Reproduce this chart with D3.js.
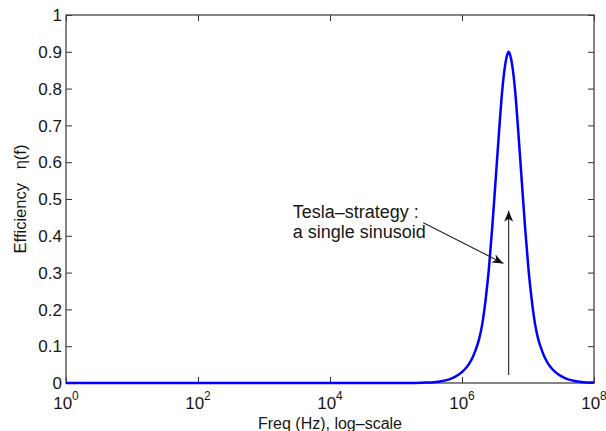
<!DOCTYPE html>
<html>
<head>
<meta charset="utf-8">
<script src="https://cdn.jsdelivr.net/npm/d3@7/dist/d3.min.js"></script>
<style>
  html, body { margin: 0; padding: 0; background: #fff; }
  svg { display: block; }
  text { font-family: "Liberation Sans", Arial, Helvetica, sans-serif; fill: #161616; }
</style>
</head>
<body>
<svg id="chart" width="606" height="431"></svg>
<script>
// ---- data ----
const freqHz = [1, 1e2, 1e4, 5.09e4, 1.279e5, 2.553e5, 4.046e5, 5.093e5, 6.412e5, 8.072e5,
  1.016e6, 1.140e6, 1.279e6, 1.435e6, 1.611e6, 1.807e6, 2.028e6, 2.275e6, 2.553e6, 2.864e6,
  3.214e6, 3.606e6, 4.046e6, 4.539e6, 4.808e6, 5.093e6, 5.395e6, 5.715e6, 6.412e6, 7.194e6,
  8.072e6, 9.057e6, 1.016e7, 1.140e7, 1.279e7, 1.435e7, 1.611e7, 1.807e7, 2.028e7, 2.275e7,
  2.553e7, 3.214e7, 4.046e7, 5.093e7, 6.412e7, 1e8];
const efficiency = [0, 0, 0, 0, 0.0002, 0.001, 0.003, 0.0055, 0.010, 0.018,
  0.031, 0.040, 0.052, 0.068, 0.090, 0.118, 0.160, 0.225, 0.310, 0.420,
  0.545, 0.672, 0.790, 0.868, 0.890, 0.900, 0.890, 0.868, 0.790, 0.672,
  0.545, 0.420, 0.310, 0.225, 0.160, 0.118, 0.090, 0.068, 0.052, 0.040,
  0.031, 0.018, 0.010, 0.0055, 0.003, 0.0012];

const xTickExp = [0, 2, 4, 6, 8];
const yTicks = [0, 0.1, 0.2, 0.3, 0.4, 0.5, 0.6, 0.7, 0.8, 0.9, 1];
const yTickLabels = ["0", "0.1", "0.2", "0.3", "0.4", "0.5", "0.6", "0.7", "0.8", "0.9", "1"];

const xLabel = "Freq (Hz), log\u2013scale";
const yLabel = "Efficiency   \u03b7(f)";
const noteLines = ["Tesla\u2013strategy :", "a single sinusoid"];
const noteAnchor = [2.72e3, 0.4476];          // text position (freq, eta)
const arrowDiag = [[2.59e5, 0.4356], [4.23e6, 0.325]];   // from, to
const arrowVert = [[5.093e6, 0.022], [5.093e6, 0.468]];  // from, to

// ---- layout ----
const L = 66, R = 594, T = 15, B = 383;
const svg = d3.select("#chart");

const x = d3.scaleLog().domain([1, 1e8]).range([L, R]);
const y = d3.scaleLinear().domain([0, 1]).range([B, T]);

// ticks (inward, on all four sides)
const tickLen = 6;
const axisStyle = g => {
  g.select(".domain").remove();
  g.selectAll(".tick line").attr("stroke", "#333").attr("stroke-width", 1);
  g.selectAll(".tick text").remove();
};
const xTickVals = xTickExp.map(e => Math.pow(10, e));
svg.append("g").attr("transform", `translate(0,${B})`)
  .call(d3.axisBottom(x).tickValues(xTickVals).tickSize(-tickLen)).call(axisStyle);
svg.append("g").attr("transform", `translate(0,${T})`)
  .call(d3.axisTop(x).tickValues(xTickVals).tickSize(-tickLen)).call(axisStyle);
svg.append("g").attr("transform", `translate(${L},0)`)
  .call(d3.axisLeft(y).tickValues(yTicks).tickSize(-tickLen)).call(axisStyle);
svg.append("g").attr("transform", `translate(${R},0)`)
  .call(d3.axisRight(y).tickValues(yTicks).tickSize(-tickLen)).call(axisStyle);

// box
svg.append("rect").attr("x", L).attr("y", T).attr("width", R - L).attr("height", B - T)
  .attr("fill", "none").attr("stroke", "#444").attr("stroke-width", 1.3);

// y tick labels
svg.append("g").selectAll("text").data(yTicks).join("text")
  .attr("x", L - 4).attr("y", d => y(d)).attr("dy", "0.36em")
  .attr("text-anchor", "end").attr("font-size", 17)
  .text((d, i) => yTickLabels[i]);

// x tick labels 10^n
const xl = svg.append("g").selectAll("text").data(xTickExp).join("text")
  .attr("x", d => x(Math.pow(10, d))).attr("y", 408.5)
  .attr("text-anchor", "middle").attr("font-size", 17);
xl.append("tspan").text("10");
xl.append("tspan").attr("font-size", 12).attr("dy", -9).text(d => d);

// axis labels
svg.append("text").attr("x", (L + R) / 2).attr("y", 428.5)
  .attr("text-anchor", "middle").attr("font-size", 16).text(xLabel);
svg.append("text").attr("transform", `translate(26,${(T + B) / 2}) rotate(-90)`)
  .attr("text-anchor", "middle").attr("font-size", 16.5)
  .style("white-space", "pre").text(yLabel);

// curve
const pts = freqHz.map((f, i) => [f, efficiency[i]]);
svg.append("path").datum(pts)
  .attr("fill", "none").attr("stroke", "#0000ff").attr("stroke-width", 2.5)
  .attr("stroke-linejoin", "round")
  .attr("d", d3.line().x(d => x(d[0])).y(d => y(d[1])).curve(d3.curveMonotoneX));

// arrows
const defs = svg.append("defs");
defs.append("marker").attr("id", "ah").attr("viewBox", "-12 -6 14 12")
  .attr("refX", 0).attr("refY", 0).attr("markerWidth", 14).attr("markerHeight", 12)
  .attr("markerUnits", "userSpaceOnUse").attr("orient", "auto")
  .append("path").attr("d", "M0,0 L-11,-4.5 L-8,0 L-11,4.5 Z").attr("fill", "#111");

[arrowDiag, arrowVert].forEach(a => {
  svg.append("line")
    .attr("x1", x(a[0][0])).attr("y1", y(a[0][1]))
    .attr("x2", x(a[1][0])).attr("y2", y(a[1][1]))
    .attr("stroke", "#222").attr("stroke-width", 1.1)
    .attr("marker-end", "url(#ah)");
});

// annotation text
svg.append("g").selectAll("text").data(noteLines).join("text")
  .attr("x", x(noteAnchor[0])).attr("y", (d, i) => y(noteAnchor[1]) + i * 20)
  .attr("font-size", 18).text(d => d);
</script>
</body>
</html>
